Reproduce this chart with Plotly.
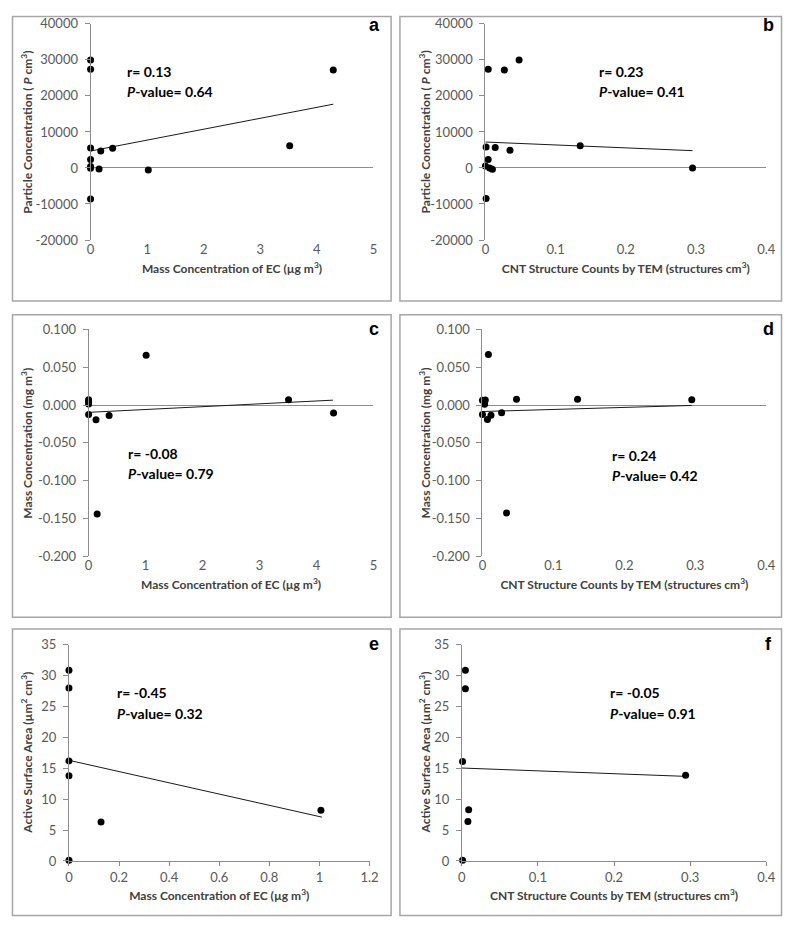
"""
Six-panel correlation scatter: particle / mass / active surface vs EC and CNT counts.
"""

import plotly.graph_objects as go

# page is 800x932, the default body margin is 8px, so the figure is kept inside it
PAD = 8
W, H = 800 - 2 * PAD, 932 - 2 * PAD

# panel a: particle concentration vs EC mass
a_x = [0, 0, 0, 0, 0, 0, 0, 0.15, 0.18, 0.39, 1.02, 3.52, 4.29]
a_y = [30000, 27400, 5560, 2370, 400, -100, -8620, -270, 4740, 5450, -540, 6180, 27200]
a_fit_x = [0, 4.29]
a_fit_y = [4700, 17700]

# panel b: particle concentration vs CNT counts
b_x = [0.004, 0.027, 0.048, 0.001, 0.014, 0.035, 0.004, 0.0, 0.006, 0.010, 0.001, 0.135, 0.295]
b_y = [27400, 27200, 30000, 5830, 5650, 4920, 2370, 550, 0, -360, -8500, 6180, 0]
b_fit_x = [0, 0.295]
b_fit_y = [7200, 4800]

# panel c: mass concentration vs EC mass
c_x = [0, 0, 0, 0, 0.13, 0.15, 0.36, 1.01, 3.51, 4.30]
c_y = [0.0069, 0.0043, 0.0013, -0.0126, -0.0195, -0.144, -0.0139, 0.066, 0.007, -0.0104]
c_fit_x = [0, 4.29]
c_fit_y = [-0.0096, 0.0065]

# panel d: mass concentration vs CNT counts
d_x = [0.0084, 0.0, 0.004, 0.003, 0.003, 0.0, 0.007, 0.012, 0.027, 0.048, 0.034, 0.134, 0.295]
d_y = [0.067, 0.0065, 0.0068, 0.003, 0.001, -0.0126, -0.019, -0.0135, -0.010, 0.0078, -0.1425, 0.0078, 0.0069]
d_fit_x = [0, 0.295]
d_fit_y = [-0.0085, -0.0005]

# panel e: active surface area vs EC mass
e_x = [0, 0, 0, 0, 0, 0.128, 1.006]
e_y = [30.9, 28.0, 16.2, 13.8, 0.1, 6.3, 8.2]
e_fit_x = [0, 1.01]
e_fit_y = [16.3, 7.1]

# panel f: active surface area vs CNT counts
f_x = [0.0047, 0.0047, 0.001, 0.009, 0.008, 0.001, 0.294]
f_y = [30.9, 27.9, 16.1, 8.3, 6.4, 0.1, 13.9]
f_fit_x = [0, 0.294]
f_fit_y = [15.05, 13.7]

stats_r = ["r= 0.13", "r= 0.23", "r= -0.08", "r= 0.24", "r= -0.45", "r= -0.05"]
stats_p = ["0.64", "0.41", "0.79", "0.42", "0.32", "0.91"]
letters = ["a", "b", "c", "d", "e", "f"]

ec_ticks = [0, 1, 2, 3, 4, 5]
ec_ticks_small = [0, 0.2, 0.4, 0.6, 0.8, 1, 1.2]
ec_ticks_small_text = ["0", "0.2", "0.4", "0.6", "0.8", "1", "1.2"]
cnt_ticks = [0, 0.1, 0.2, 0.3, 0.4]
cnt_ticks_text = ["0", "0.1", "0.2", "0.3", "0.4"]
pc_ticks = [-20000, -10000, 0, 10000, 20000, 30000, 40000]
pc_ticks_text = ["-20000", "-10000", "0", "10000", "20000", "30000", "40000"]
mc_ticks = [-0.2, -0.15, -0.1, -0.05, 0, 0.05, 0.1]
mc_ticks_text = ["-0.200", "-0.150", "-0.100", "-0.050", "0.000", "0.050", "0.100"]
as_ticks = [0, 5, 10, 15, 20, 25, 30, 35]

X_EC = "Mass Concentration of EC (µg m<sup>3</sup>)"
X_CNT = "CNT Structure Counts by TEM (structures cm<sup>3</sup>)"
Y_PC = "Particle Concentration ( <i>P</i> cm<sup>3</sup>)"
Y_MC = "Mass Concentration (mg m<sup>3</sup>)"
Y_AS = "Active Surface Area (µm<sup>2</sup> cm<sup>3</sup>)"

GREY = "#8c8c8c"
TICK_FONT = dict(family="Lato, Arial", size=13, color="#595959")
TITLE_FONT = dict(family="Lato, Arial", size=12, color="#404040")

# positions in window pixels: plot areas (left, right, top, bottom) and panel boxes
plot_px = [
    (88, 376, 16, 236), (490, 776, 16, 236),
    (86, 376, 327, 558), (487, 776, 327, 558),
    (66, 372, 648, 868), (466, 776, 648, 868),
]
box_px = [
    (2, 394, 2, 298), (403, 797, 2, 298),
    (2, 394, 312, 620), (403, 797, 312, 620),
    (2, 394, 632, 930), (403, 797, 632, 930),
]
ytitle_x = [23, 428, 23, 428, 23, 428]
stat_px = [(123, 64), (604, 64), (124, 453), (617, 455), (113, 697), (615, 697)]

panels = [
    (a_x, a_y, a_fit_x, a_fit_y, X_EC, Y_PC, [0, 5], ec_ticks, [str(t) for t in ec_ticks], [-20000, 40000], pc_ticks, pc_ticks_text),
    (b_x, b_y, b_fit_x, b_fit_y, X_CNT, Y_PC, [0, 0.4], cnt_ticks, cnt_ticks_text, [-20000, 40000], pc_ticks, pc_ticks_text),
    (c_x, c_y, c_fit_x, c_fit_y, X_EC, Y_MC, [0, 5], ec_ticks, [str(t) for t in ec_ticks], [-0.2, 0.1], mc_ticks, mc_ticks_text),
    (d_x, d_y, d_fit_x, d_fit_y, X_CNT, Y_MC, [0, 0.4], cnt_ticks, cnt_ticks_text, [-0.2, 0.1], mc_ticks, mc_ticks_text),
    (e_x, e_y, e_fit_x, e_fit_y, X_EC, Y_AS, [0, 1.2], ec_ticks_small, ec_ticks_small_text, [0, 35], as_ticks, [str(t) for t in as_ticks]),
    (f_x, f_y, f_fit_x, f_fit_y, X_CNT, Y_AS, [0, 0.4], cnt_ticks, cnt_ticks_text, [0, 35], as_ticks, [str(t) for t in as_ticks]),
]


def fx(px):
    return (px - PAD) / W


def fy(py):
    return 1 - (py - PAD) / H


def clamp(v):
    return min(max(v, 0.5 / W), 1 - 0.5 / W)


fig = go.Figure()
layout = dict(shapes=[], annotations=[])

for i, (xs, ys, fxs, fys, xt, yt, xr, xtv, xtt, yr, ytv, ytt) in enumerate(panels):
    n = "" if i == 0 else str(i + 1)
    xa, ya = "x" + n, "y" + n
    fig.add_trace(go.Scatter(
        x=fxs, y=fys, mode="lines", xaxis=xa, yaxis=ya,
        line=dict(color="#1a1a1a", width=1), showlegend=False, hoverinfo="skip",
    ))
    fig.add_trace(go.Scatter(
        x=xs, y=ys, mode="markers", xaxis=xa, yaxis=ya, cliponaxis=False,
        marker=dict(color="black", size=7), showlegend=False,
    ))
    l, r, t, b = plot_px[i]
    zero_mid = yr[0] < 0
    layout["xaxis" + n] = dict(
        domain=[fx(l), fx(r)], anchor=ya, range=xr,
        tickvals=xtv, ticktext=xtt, tickfont=TICK_FONT,
        showgrid=False, zeroline=False,
        showline=not zero_mid, linecolor=GREY, linewidth=1,
        ticks="" if zero_mid else "outside", ticklen=4, tickcolor=GREY,
        title=dict(text="<b>" + xt + "</b>", font=TITLE_FONT, standoff=8),
    )
    layout["yaxis" + n] = dict(
        domain=[fy(b), fy(t)], anchor=xa, range=yr,
        tickvals=ytv, ticktext=ytt, tickfont=TICK_FONT, ticklabelstandoff=4,
        showgrid=False, zeroline=zero_mid, zerolinecolor=GREY, zerolinewidth=1,
        showline=True, linecolor=GREY, linewidth=1,
        ticks="outside", ticklen=5, tickcolor=GREY,
    )
    layout["annotations"].append(dict(
        xref="paper", yref="paper", x=fx(ytitle_x[i]), y=fy((t + b) / 2),
        xanchor="center", yanchor="middle", textangle=-90,
        text="<b>" + yt + "</b>", showarrow=False, font=TITLE_FONT,
    ))
    bl, br, bt, bb = box_px[i]
    layout["shapes"].append(dict(
        type="rect", xref="paper", yref="paper",
        x0=clamp(fx(bl)), x1=clamp(fx(br)), y0=clamp(fy(bb)), y1=clamp(fy(bt)),
        line=dict(color="#a6a6a6", width=1.5),
    ))
    sx, sy = stat_px[i]
    layout["annotations"].append(dict(
        xref="paper", yref="paper", x=fx(sx), y=fy(sy), xanchor="left", yanchor="middle",
        text="<b>" + stats_r[i] + "</b>", showarrow=False,
        font=dict(family="Lato, Arial", size=14, color="black"),
    ))
    layout["annotations"].append(dict(
        xref="paper", yref="paper", x=fx(sx), y=fy(sy + 21), xanchor="left", yanchor="middle",
        text="<b><i>P</i>-value= " + stats_p[i] + "</b>", showarrow=False,
        font=dict(family="Lato, Arial", size=14, color="black"),
    ))
    layout["annotations"].append(dict(
        xref="paper", yref="paper", x=fx(bl + 375), y=fy(bt + 15), xanchor="center", yanchor="middle",
        text="<b>" + letters[i] + "</b>", showarrow=False,
        font=dict(family="Arial", size=18, color="black"),
    ))

fig.update_layout(
    width=W, height=H,
    margin=dict(l=0, r=0, t=0, b=0),
    paper_bgcolor="white", plot_bgcolor="white",
    **layout,
)

fig.write_html("out.html", config={"displayModeBar": False})
